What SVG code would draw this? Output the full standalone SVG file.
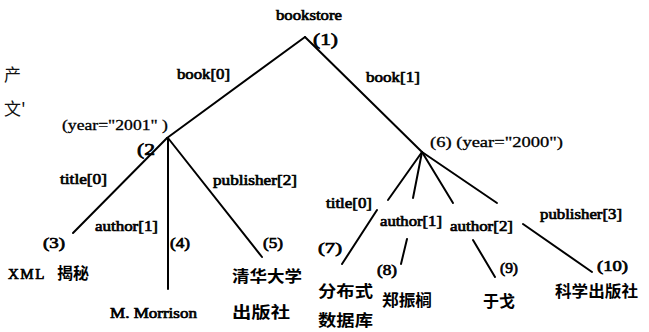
<svg xmlns="http://www.w3.org/2000/svg" width="649" height="332" viewBox="0 0 649 332">
<style>
.t{font-family:"Liberation Serif",serif;font-size:15px;fill:#000;stroke:#000;stroke-width:0.3}
.b{stroke-width:0.7}
.n{font-family:"Liberation Serif",serif;font-size:17px;fill:#000;stroke:#000;stroke-width:0.7}
.c{font-family:"Noto Sans CJK SC",sans-serif;font-size:16px;font-weight:bold;fill:#000}
.m{font-family:"Noto Sans CJK SC",sans-serif;font-size:17px;fill:#111}
line{stroke:#000;stroke-width:2;stroke-linecap:round}
</style>
<rect width="649" height="332" fill="#fff"/>
<g id="connectors">
<line x1="305" y1="37" x2="167" y2="138"/>
<line x1="305" y1="37" x2="422" y2="152"/>
<line x1="167" y1="138" x2="73" y2="233"/>
<line x1="168" y1="138" x2="168" y2="289"/>
<line x1="168" y1="138" x2="262" y2="257"/>
<line x1="422" y1="152" x2="388" y2="200"/>
<line x1="422" y1="152" x2="413" y2="198"/>
<line x1="422" y1="152" x2="453" y2="203"/>
<line x1="422" y1="152" x2="497" y2="203"/>
<line x1="377" y1="210" x2="342" y2="264"/>
<line x1="407" y1="239" x2="401" y2="264"/>
<line x1="473" y1="240" x2="495" y2="277"/>
<line x1="523" y1="224" x2="592" y2="272"/>
</g>
<g id="margin">
<text class="m" x="4" y="81">产</text>
<text class="m" x="4" y="115">文'</text>
</g>
<g id="node1">
<text class="t b" x="276" y="20" textLength="66" lengthAdjust="spacingAndGlyphs">bookstore</text>
<text class="n" x="313" y="45" textLength="25" lengthAdjust="spacingAndGlyphs">(1)</text>
<text class="t b" x="177" y="79" textLength="53" lengthAdjust="spacingAndGlyphs">book[0]</text>
<text class="t b" x="366" y="82" textLength="54" lengthAdjust="spacingAndGlyphs">book[1]</text>
</g>
<g id="node2">
<text class="t" x="62" y="130" textLength="106" lengthAdjust="spacingAndGlyphs">(year="2001" )</text>
<text class="n" x="137" y="155" textLength="18" lengthAdjust="spacingAndGlyphs">(2</text>
<text class="t b" x="60" y="184" textLength="47" lengthAdjust="spacingAndGlyphs">title[0]</text>
<text class="t b" x="95" y="231" textLength="63" lengthAdjust="spacingAndGlyphs">author[1]</text>
<text class="t b" x="213" y="185" textLength="84" lengthAdjust="spacingAndGlyphs">publisher[2]</text>
</g>
<g id="node3">
<text class="t b" x="43" y="248" textLength="22" lengthAdjust="spacingAndGlyphs">(3)</text>
<text x="8" y="279"><tspan class="t b" letter-spacing="1.5">XML</tspan><tspan class="c" x="57" font-size="17">揭秘</tspan></text>
</g>
<g id="node4">
<text class="t b" x="170" y="248" textLength="20" lengthAdjust="spacingAndGlyphs">(4)</text>
<text class="t b" x="110" y="318" textLength="87" lengthAdjust="spacingAndGlyphs">M. Morrison</text>
</g>
<g id="node5">
<text class="t b" x="263" y="248" textLength="20" lengthAdjust="spacingAndGlyphs">(5)</text>
<text class="c" x="232" y="282" textLength="70" lengthAdjust="spacingAndGlyphs">清华大学</text>
<text class="c" x="232" y="318" textLength="58" lengthAdjust="spacingAndGlyphs">出版社</text>
</g>
<g id="node6">
<text class="t" x="430" y="147" textLength="133" lengthAdjust="spacingAndGlyphs">(6) (year="2000")</text>
<text class="t b" x="326" y="208" textLength="46" lengthAdjust="spacingAndGlyphs">title[0]</text>
<text class="t b" x="380" y="226" textLength="62" lengthAdjust="spacingAndGlyphs">author[1]</text>
<text class="t b" x="450" y="231" textLength="63" lengthAdjust="spacingAndGlyphs">author[2]</text>
<text class="t b" x="540" y="219" textLength="82" lengthAdjust="spacingAndGlyphs">publisher[3]</text>
</g>
<g id="node7">
<text class="t b" x="318" y="253" textLength="24" lengthAdjust="spacingAndGlyphs">(7)</text>
<text class="c" x="318" y="297" font-size="18" textLength="55" lengthAdjust="spacingAndGlyphs">分布式</text>
<text class="c" x="318" y="326" font-size="18" textLength="55" lengthAdjust="spacingAndGlyphs">数据库</text>
</g>
<g id="node8">
<text class="t b" x="377" y="275" textLength="20" lengthAdjust="spacingAndGlyphs">(8)</text>
<text class="c" x="382" y="306" textLength="50" lengthAdjust="spacingAndGlyphs">郑振榈</text>
</g>
<g id="node9">
<text class="t b" x="500" y="273" textLength="18" lengthAdjust="spacingAndGlyphs">(9)</text>
<text class="c" x="483" y="307" textLength="32" lengthAdjust="spacingAndGlyphs">于戈</text>
</g>
<g id="node10">
<text class="t b" x="597" y="271" textLength="31" lengthAdjust="spacingAndGlyphs">(10)</text>
<text class="c" x="555" y="297" textLength="83" lengthAdjust="spacingAndGlyphs">科学出版社</text>
</g>
</svg>
